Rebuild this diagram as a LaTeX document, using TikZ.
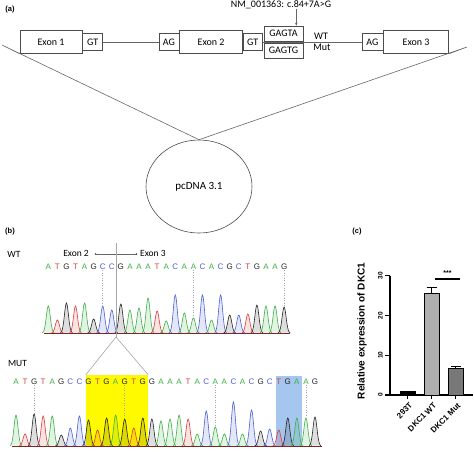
\documentclass[tikz,border=0pt]{standalone}
\usepackage{fontspec}
\setmainfont{Carlito}
\newfontfamily\arialfont{Liberation Sans}
\usetikzlibrary{positioning,shapes.geometric,arrows.meta}
\definecolor{colA}{RGB}{60,175,70}
\definecolor{colT}{RGB}{215,60,60}
\definecolor{colG}{RGB}{35,35,35}
\definecolor{colC}{RGB}{75,95,210}
\definecolor{hlyellow}{RGB}{255,250,0}
\definecolor{hlblue}{RGB}{165,198,238}
\definecolor{barwt}{RGB}{175,175,175}
\definecolor{barmut}{RGB}{120,120,120}
\tikzset{
  genebox/.style={draw=black!70, line width=0.6pt, inner sep=0pt, font=\fontsize{10}{12}\selectfont},
  exonbox/.style={genebox, minimum width=63pt, minimum height=23pt},
  sitebox/.style={genebox, minimum width=20pt, minimum height=17pt},
  motifbox/.style={genebox, minimum width=39pt, minimum height=15pt},
  thinline/.style={draw=black!60, line width=0.6pt},
  panel/.style={font=\arialfont\bfseries\fontsize{7.5}{9}\selectfont, inner sep=0pt},
  note/.style={font=\fontsize{9.5}{11}\selectfont, inner sep=0pt},
  seqbase/.style={font=\arialfont\fontsize{8}{8}\selectfont, inner sep=0pt},
  trace/.style={draw=#1, fill=#1, fill opacity=0.15, line width=0.6pt},
  traceaxis/.style={draw=colT!60!black, line width=0.8pt},
  guide/.style={draw=black!35, dotted, line width=0.5pt},
  axisline/.style={draw=black, line width=1.1pt},
  ticklab/.style={font=\arialfont\bfseries\fontsize{6.5}{7}\selectfont, inner sep=0pt, rotate=90},
  barlab/.style={font=\arialfont\bfseries\fontsize{8}{9}\selectfont, inner sep=0pt, rotate=45, anchor=north east},
}
\begin{document}
\begin{tikzpicture}[x=1pt, y=-1pt]
\useasboundingbox (0,0) rectangle (474,451);

\node[panel] (pa) at (10,10) {(a)};
\node[exonbox, minimum width=62pt] (exon1) at (51,42) {Exon 1};
\node[sitebox, right=0pt of exon1] (gt1) {GT};
\node[sitebox] (ag1) at (169,42) {AG};
\node[exonbox, right=0pt of ag1] (exon2) {Exon 2};
\node[sitebox, minimum width=19pt, right=0pt of exon2] (gt2) {GT};
\node[motifbox] (gagta) at (283.5,33.5) {GAGTA};
\node[motifbox] (gagtg) at (283.5,50.5) {GAGTG};
\node[sitebox, minimum width=21pt] (ag2) at (372.5,42) {AG};
\node[exonbox, minimum width=65pt, right=0pt of ag2] (exon3) {Exon 3};
\node[note, font=\fontsize{10}{12}\selectfont] (nm) at (281,5) {NM\_001363: c.84+7A>G};
\node[note, font=\fontsize{10}{12}\selectfont] (wtlab) at (321,36) {WT};
\node[note, font=\fontsize{10}{12}\selectfont] (mutlab) at (322,47.5) {Mut};
\draw[thinline] (gt1) -- (ag1);
\draw[thinline] (gt2) -- (ag2);
\draw[thinline, -{Stealth[length=3pt,width=2.5pt]}] ([xshift=-7pt]gagta.north east |- nm.south) -- ([xshift=-7pt]gagta.north east);
\node[ellipse, draw=black!70, line width=0.6pt, minimum width=106pt, minimum height=93pt, font=\fontsize{11}{13}\selectfont] (vec) at (199,186.5) {pcDNA 3.1};
\coordinate (lapex) at (2,45);
\coordinate (rapex) at (467,47);
\draw[thinline] (exon1.south west) -- (lapex) -- (vec.north);
\draw[thinline] (exon3.south east) -- (rapex) -- (vec.north);

\node[panel] (pb) at (10,232) {(b)};
\node[note] (wtrow) at (14,254) {WT};
\node[note] (mutrow) at (17.5,363) {MUT};
\node[note, anchor=east] (ex2) at (89,253) {Exon 2};
\node[note, anchor=west] (ex3) at (140,253) {Exon 3};
\coordinate (jl) at (95.5,254);
\coordinate (jr) at (136.5,254);
\draw[thinline, line width=0.4pt] (jl) -- (jr);
\fill[black!70] (jl) circle (0.8pt) (jr) circle (0.8pt);
\node[fill=hlyellow, minimum width=62pt, minimum height=72pt, inner sep=0pt] (ybox) at (117,411) {};
\node[fill=hlblue, minimum width=26pt, minimum height=71pt, inner sep=0pt] (bbox) at (289,411.5) {};
\coordinate (jtop) at (116,243);
\coordinate (junc) at (116,337);

\draw[traceaxis] (44,333) -- (290,333);
\foreach \b/\h [count=\i from 0] in {A/27,T/13,G/30,T/27,A/30,G/14,C/27,C/23,G/29,A/23,A/25,A/35,T/22,A/12,C/38,A/20,A/15,C/38,A/13,C/38,G/18,C/18,T/19,G/28,A/27,A/27,G/26}{
  \pgfmathsetmacro\px{48.3+9.07*\i}
  \pgfmathsetmacro\pa{\px-6}
  \pgfmathsetmacro\pb{\px+6}
  \node[seqbase, text=col\b] (wt\i) at (\px,267) {\b};
  \draw[trace=col\b] plot[domain=\pa:\pb, samples=21, smooth] (\x,{333-\h*exp(-((\x-\px)^2)/8)});
}
\foreach \i/\h in {6/27,16/15,26/26}{
  \pgfmathsetmacro\ty{332-\h}
  \draw[guide] (wt\i.south) -- (wt\i.south |- 0,\ty);
}

\draw[traceaxis] (12,446) -- (322,446);
\foreach \b/\h [count=\i from 0] in {A/31,T/12,G/32,T/30,A/30,G/11,C/18,C/30,G/26,T/16,G/28,A/31,G/27,T/18,G/28,G/27,A/25,A/27,A/31,T/27,A/12,C/35,A/19,A/12,C/44,A/12,C/36,G/15,C/17,T/16,G/28,A/28,A/28,G/29}{
  \pgfmathsetmacro\px{16+9.06*\i}
  \pgfmathsetmacro\pa{\px-6}
  \pgfmathsetmacro\pb{\px+6}
  \node[seqbase, text=col\b] (mut\i) at (\px,382) {\b};
  \draw[trace=col\b] plot[domain=\pa:\pb, samples=21, smooth] (\x,{446-\h*exp(-((\x-\px)^2)/8)});
}
\foreach \i/\h in {2/32,12/27,22/19,32/28}{
  \pgfmathsetmacro\ty{445-\h}
  \draw[guide] (mut\i.south) -- (mut\i.south |- 0,\ty);
}
\draw[black!35, line width=0.8pt] (jtop) -- (junc);
\draw[black!35, line width=0.6pt] (ybox.north west) -- (junc) -- (ybox.north east);

\node[panel] (pc) at (357,232) {(c)};
\draw[axisline] (390,276) -- (390,395) -- (473,395);
\foreach \v in {0,10,20,30}{
  \pgfmathsetmacro\ty{395-3.97*\v}
  \draw[axisline] (385,\ty) -- (390,\ty);
  \node[ticklab] (yt\v) at (380.5,\ty) {\v};
}
\foreach \xc/\v/\e/\c in {407.5/0.8/0.9/black, 431.5/25.5/27.2/barwt, 455.5/6.8/7.3/barmut}{
  \pgfmathsetmacro\ya{395-3.97*\v}
  \pgfmathsetmacro\yb{395-3.97*\e}
  \draw[black, line width=0.9pt, fill=\c] ({\xc-7.5},395) rectangle ({\xc+7.5},\ya);
  \draw[black, line width=0.9pt] (\xc,\ya) -- (\xc,\yb) ({\xc-5},\yb) -- ({\xc+5},\yb);
  \draw[axisline] (\xc,395) -- (\xc,399);
}
\node[barlab] (x1) at (409,402) {293T};
\node[barlab] (x2) at (433,402) {DKC1 WT};
\node[barlab] (x3) at (457,402) {DKC1 Mut};
\draw[line width=1.3pt] (435,279) -- (460,279);
\node[font=\arialfont\bfseries\fontsize{7}{8}\selectfont, inner sep=0pt] (sig) at (447.5,273) {***};
\node[font=\arialfont\bfseries\fontsize{10}{12}\selectfont, inner sep=0pt, rotate=90] (ylab) at (362,331) {Relative expression of DKC1};
\end{tikzpicture}
\end{document}
